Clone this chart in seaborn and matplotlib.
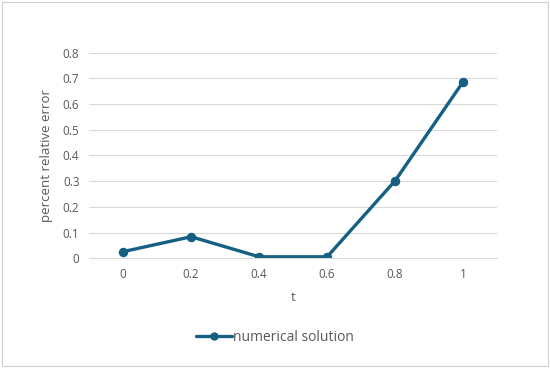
import matplotlib
matplotlib.use('Agg')
import matplotlib.pyplot as plt
import matplotlib.patches as mpatches
from matplotlib.lines import Line2D
import seaborn as sns

# Data
t_labels = ['0', '0.2', '0.4', '0.6', '0.8', '1']
rel_error = [0.026, 0.084, 0.006, 0.006, 0.302, 0.687]
series_name = 'numerical solution'

LINE_COLOR = '#156082'
TEXT_COLOR = '#595959'
GRID_COLOR = '#d9d9d9'

sns.set_theme(style='white')
plt.rcParams['font.family'] = ['Open Sans', 'DejaVu Sans']

fig = plt.figure(figsize=(5.5, 3.68), dpi=100)
ax = fig.add_axes([0.162, 0.298, 0.742, 0.559])

sns.pointplot(x=t_labels, y=rel_error, color=LINE_COLOR, markers='o',
              linestyles='-', ax=ax, linewidth=2.4, markersize=5)

ax.set_xlim(-0.5, len(t_labels) - 0.5)
ax.set_ylim(0, 0.8)
ax.set_yticks([0, 0.1, 0.2, 0.3, 0.4, 0.5, 0.6, 0.7, 0.8])
ax.set_yticklabels(['0', '0.1', '0.2', '0.3', '0.4', '0.5', '0.6', '0.7', '0.8'])
ax.yaxis.grid(True, color=GRID_COLOR, linewidth=0.8)
ax.set_axisbelow(True)
for side in ['top', 'right', 'left']:
    ax.spines[side].set_visible(False)
ax.spines['bottom'].set_color(GRID_COLOR)
ax.spines['bottom'].set_linewidth(0.8)
ax.tick_params(axis='both', length=0, labelsize=8.5, colors=TEXT_COLOR, pad=7)

ax.set_xlabel('t', fontsize=9.5, color=TEXT_COLOR, labelpad=7)
ax.set_ylabel('percent relative error', fontsize=9.5, color=TEXT_COLOR, labelpad=7)

handle = Line2D([], [], color=LINE_COLOR, linewidth=2.4, marker='o', markersize=5)
fig.legend([handle], [series_name], loc='center', bbox_to_anchor=(0.5, 0.083),
           frameon=False, fontsize=10, labelcolor=TEXT_COLOR,
           handlelength=2.6, handletextpad=0.1)

fig.patches.append(mpatches.Rectangle((0.004, 0.005), 0.992, 0.99, transform=fig.transFigure,
                                      fill=False, edgecolor='#d0d0d0', linewidth=0.8))

fig.savefig('out.png', dpi=100)
